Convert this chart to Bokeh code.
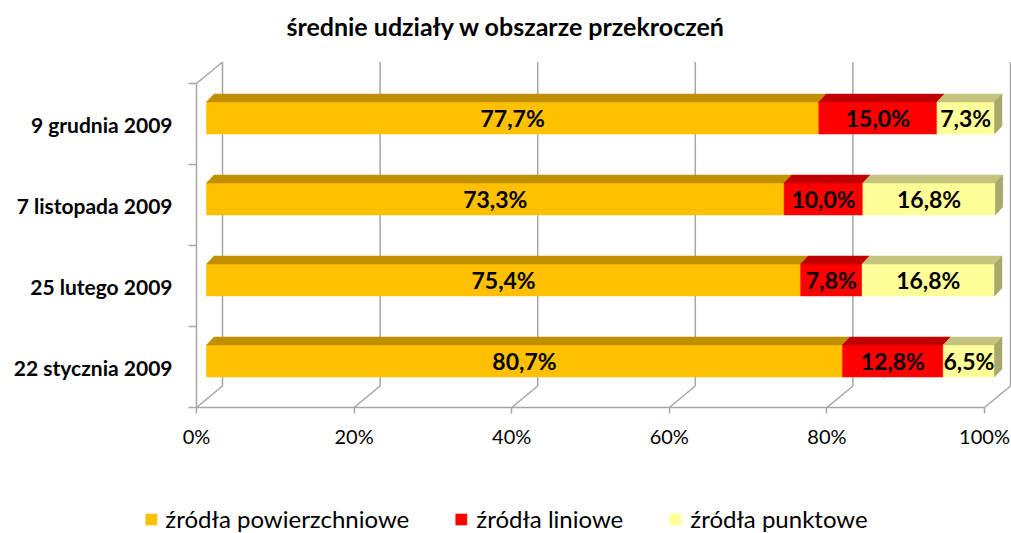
from bokeh.plotting import figure
from bokeh.models import ColumnDataSource, FixedTicker, Range1d, Legend, LegendItem
from bokeh.core.properties import value
from bokeh.embed import file_html
from bokeh.resources import INLINE

# ---------------- data ----------------
categories = ["22 stycznia 2009", "25 lutego 2009", "7 listopada 2009", "9 grudnia 2009"]
powierzchniowe = [80.7, 75.4, 73.3, 77.7]
liniowe = [12.8, 7.8, 10.0, 15.0]
punktowe = [6.5, 16.8, 16.8, 7.3]
series_names = ["źródła powierzchniowe", "źródła liniowe", "źródła punktowe"]
x_ticks = [0, 20, 40, 60, 80, 100]
x_tick_labels = ["0%", "20%", "40%", "60%", "80%", "100%"]
title_text = "średnie udziały w obszarze przekroczeń"

# ---------------- styling ----------------
FRONT = ["#FFC000", "#FF0000", "#FFFF99"]
TOPC = ["#C09000", "#C00000", "#C4C47E"]
SIDEC = ["#A07800", "#A00000", "#A8A86A"]
GRID = "#A6A6A6"
FONT = "Lato"

W, H = 1011, 533
OFF = 0
TOP_BORDER = 45
PXX = 7.88      # px per percent
PXY = 81.0      # px per category
X0_REF = 196.0  # page x of 0% on front plane
Y0_REF = 366.5  # page y of first category center on front plane

x_start = (OFF - X0_REF) / PXX
x_end = (OFF + W - X0_REF) / PXX
y_start = (Y0_REF - (OFF + H)) / PXY
y_end = (Y0_REF - (OFF + TOP_BORDER)) / PXY

WDX, WDY = 26 / PXX, 21.5 / PXY           # wall depth
BX, BY = 10 / PXX, 6 / PXY                # bar front plane shift
BH = 32 / PXY                             # bar face height
BDX, BDY = 7.5 / PXX, 8 / PXY             # bar depth

p = figure(width=W, height=H, output_backend="svg", toolbar_location=None,
           x_range=Range1d(x_start, x_end), y_range=Range1d(y_start, y_end),
           min_border_left=0, min_border_right=0, min_border_bottom=0,
           min_border_top=TOP_BORDER)
p.outline_line_color = None
p.xgrid.visible = False
p.ygrid.visible = False
p.background_fill_color = "white"
p.border_fill_color = "white"

p.title.text = title_text
p.title.align = "center"
p.title.text_font = FONT
p.title.text_font_size = "25px"
p.title.text_font_style = "bold"
p.title.text_color = "black"

n = len(categories)
lo = -0.5
hi = n - 0.5

# walls
gx = [t + WDX for t in x_ticks]
p.segment(x0=gx, y0=[lo + WDY] * len(gx), x1=gx, y1=[hi + WDY] * len(gx),
          line_color=GRID, line_width=1.5)
p.segment(x0=x_ticks, y0=[lo] * len(x_ticks), x1=gx, y1=[lo + WDY] * len(gx),
          line_color=GRID, line_width=1.5)
p.segment(x0=[x_ticks[0], x_ticks[0], x_ticks[0]], y0=[lo, lo, hi],
          x1=[x_ticks[-1], x_ticks[0], x_ticks[0] + WDX], y1=[lo, hi, hi + WDY],
          line_color=GRID, line_width=1.5)

# bars
series = [powierzchniowe, liniowe, punktowe]
front_renderers = []
cum = [0.0] * n
for s, vals in enumerate(series):
    lefts = [c + BX for c in cum]
    rights = [c + v + BX for c, v in zip(cum, vals)]
    ys = [i + BY for i in range(n)]
    src = ColumnDataSource(dict(y=ys, left=lefts, right=rights))
    r = p.hbar(y="y", left="left", right="right", height=BH, source=src,
               fill_color=FRONT[s], line_color=FRONT[s], line_width=0.5)
    front_renderers.append(r)
    # top faces
    txs, tys = [], []
    for l, rr, y in zip(lefts, rights, ys):
        yt = y + BH / 2
        txs.append([l, rr, rr + BDX, l + BDX])
        tys.append([yt, yt, yt + BDY, yt + BDY])
    p.patches(txs, tys, fill_color=TOPC[s], line_color=TOPC[s], line_width=0.5)
    if s == len(series) - 1:
        sxs, sys_ = [], []
        for rr, y in zip(rights, ys):
            yb, yt = y - BH / 2, y + BH / 2
            sxs.append([rr, rr, rr + BDX, rr + BDX])
            sys_.append([yb, yt, yt + BDY, yb + BDY])
        p.patches(sxs, sys_, fill_color=SIDEC[s], line_color=SIDEC[s], line_width=0.5)
    labels = [("%.1f" % v).replace(".", ",") + "%" for v in vals]
    tsrc = ColumnDataSource(dict(x=[(a + b) / 2 for a, b in zip(lefts, rights)], y=ys, t=labels))
    p.text(x="x", y="y", text="t", source=tsrc, text_align="center", text_baseline="middle",
           text_font=value(FONT), text_font_style="bold", text_font_size="23px",
           text_color="black")
    cum = [c + v for c, v in zip(cum, vals)]

# axes
xa = p.xaxis[0]
xa.fixed_location = lo
xa.ticker = FixedTicker(ticks=x_ticks, minor_ticks=[])
xa.major_label_overrides = {t: lab for t, lab in zip(x_ticks, x_tick_labels)}
xa.axis_line_color = None
xa.major_tick_out = 6
xa.major_tick_in = 0
xa.major_tick_line_color = GRID
xa.major_tick_line_width = 1.5
xa.major_label_text_font = FONT
xa.major_label_text_font_size = "20px"
xa.major_label_text_color = "black"
xa.major_label_standoff = 10

ya = p.yaxis[0]
ya.fixed_location = 0
ya.ticker = FixedTicker(ticks=list(range(n)), minor_ticks=[i + lo for i in range(n + 1)])
ya.major_label_overrides = {i: c for i, c in enumerate(categories)}
ya.axis_line_color = None
ya.major_tick_line_color = None
ya.major_tick_out = 0
ya.major_tick_in = 0
ya.minor_tick_out = 8
ya.minor_tick_in = 0
ya.minor_tick_line_color = GRID
ya.minor_tick_line_width = 1.5
ya.major_label_text_font = FONT
ya.major_label_text_font_size = "21px"
ya.major_label_text_font_style = "bold"
ya.major_label_text_color = "black"
ya.major_label_standoff = 16

legend = Legend(items=[LegendItem(label=nm, renderers=[r]) for nm, r in zip(series_names, front_renderers)],
                orientation="horizontal", location="bottom_center",
                label_text_font=FONT, label_text_font_size="24px", label_text_color="black",
                glyph_width=14, glyph_height=14, label_standoff=8, spacing=45,
                padding=0, margin=0, border_line_color=None, background_fill_alpha=0)
p.add_layout(legend)

open("out.html", "w").write(file_html(p, INLINE))
